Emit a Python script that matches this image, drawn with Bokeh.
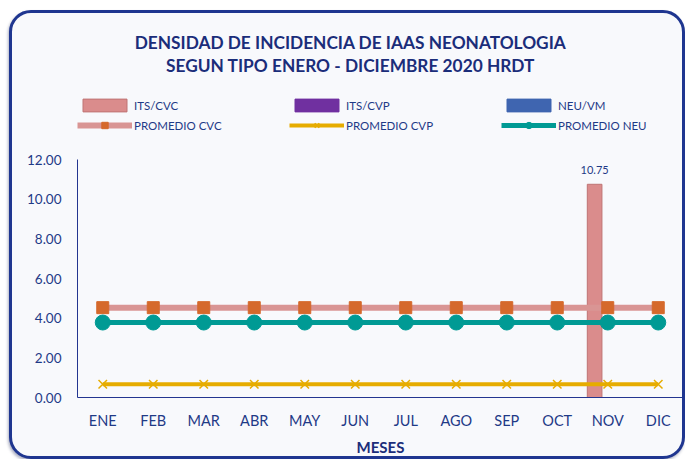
from bokeh.plotting import figure
from bokeh.models import (ColumnDataSource, FactorRange, Label, Legend, LegendItem,
                          NumeralTickFormatter, FixedTicker, Range1d)
from bokeh.transform import dodge
from bokeh.core.properties import value
from bokeh.embed import file_html
from bokeh.resources import INLINE

# ---- data ----
months = ["ENE", "FEB", "MAR", "ABR", "MAY", "JUN", "JUL", "AGO", "SEP", "OCT", "NOV", "DIC"]
its_cvc = [0, 0, 0, 0, 0, 0, 0, 0, 0, 0, 10.75, 0]
its_cvp = [0, 0, 0, 0, 0, 0, 0, 0, 0, 0, 0, 0]
neu_vm = [0, 0, 0, 0, 0, 0, 0, 0, 0, 0, 0, 0]
prom_cvc = [4.53, 4.53, 4.53, 4.53, 4.53, 4.53, 4.53, 4.53, 4.53, 4.53, 4.53, 4.53]
prom_cvp = [0.67, 0.67, 0.67, 0.67, 0.67, 0.67, 0.67, 0.67, 0.67, 0.67, 0.67, 0.67]
prom_neu = [3.78, 3.78, 3.78, 3.78, 3.78, 3.78, 3.78, 3.78, 3.78, 3.78, 3.78, 3.78]
y_ticks = [0, 2, 4, 6, 8, 10, 12]
title_lines = ["DENSIDAD DE INCIDENCIA DE IAAS NEONATOLOGIA",
               "SEGUN TIPO ENERO - DICIEMBRE 2020 HRDT"]

FONT = "Lato"
TXT = "#1F3A87"
TITLE_C = "#1B2D7A"

# ---- layout constants (canvas pixels; the figure sits inside a 3px css border) ----
BORDER = 3
W, H = 676, 449                 # figure size
FL, FR, FB = 65, 5, 65          # frame left / right / bottom border
FRAME_H = H - FB                # frame spans canvas top to the x axis
PX_UNIT = 238 / 12              # pixels per y unit (0..12 axis)
Y_END = FRAME_H / PX_UNIT
NCAT = len(months)
CAT_PX = (W - FL - FR) / NCAT


def cy(canvas_y):               # canvas y pixel -> data y
    return (FRAME_H - canvas_y) / PX_UNIT


def cx(canvas_x):               # canvas x pixel -> synthetic category x
    return (canvas_x - FL) / CAT_PX


src = ColumnDataSource(dict(m=months, cvc=its_cvc, cvp=its_cvp, neu=neu_vm,
                            pcvc=prom_cvc, pcvp=prom_cvp, pneu=prom_neu))
lab_m = [m for m, v in zip(months, its_cvc) if v > 0]
lab_v = [v for v in its_cvc if v > 0]
lab_src = ColumnDataSource(dict(m=lab_m, v=lab_v, t=[f"{v:.2f}" for v in lab_v]))

p = figure(x_range=FactorRange(factors=months), y_range=Range1d(0, Y_END),
           width=W, height=H, output_backend="svg", toolbar_location=None,
           min_border_left=FL, min_border_right=FR, min_border_top=0, min_border_bottom=FB)
p.background_fill_color = None
p.border_fill_color = None
p.outline_line_color = None
p.xgrid.grid_line_color = None
p.ygrid.grid_line_color = None
p.styles = {"margin-left": "9px", "margin-top": "10px",
            "border": f"{BORDER}px solid #1F3690", "border-radius": "22px",
            "background-color": "#F8F9FC",
            "box-shadow": "-1px 2px 3px rgba(20,30,80,0.35)"}

BW = 0.29
r_cvc = p.vbar(x=dodge("m", -0.26, range=p.x_range), top="cvc", width=BW, source=src,
               fill_color="#DA8C8C", line_color="#BF7474", line_width=1)
r_cvp = p.vbar(x=dodge("m", 0.0, range=p.x_range), top="cvp", width=BW, source=src,
               fill_color="#7030A0", line_color="#7030A0")
r_neu = p.vbar(x=dodge("m", 0.26, range=p.x_range), top="neu", width=BW, source=src,
               fill_color="#3F65B0", line_color="#3F65B0")

l_cvc = p.line("m", "pcvc", source=src, line_width=6, line_color="#D99594")
s_cvc = p.scatter("m", "pcvc", source=src, marker="square", size=12,
                  fill_color="#D5692C", line_color="#D5692C")
l_cvp = p.line("m", "pcvp", source=src, line_width=4, line_color="#E6AC00")
s_cvp = p.scatter("m", "pcvp", source=src, marker="x", size=12, line_width=1.5,
                  line_color="#E6AC00")
l_neu = p.line("m", "pneu", source=src, line_width=5, line_color="#009A94")
s_neu = p.scatter("m", "pneu", source=src, marker="circle", size=15,
                  fill_color="#009A94", line_color="#009A94")

p.text(x=dodge("m", -0.26, range=p.x_range), y="v", text="t", source=lab_src,
       text_align="center", text_baseline="middle", y_offset=-14,
       text_font_size="11px", text_color=TXT, text_font=value(FONT))

# axes
p.yaxis.ticker = FixedTicker(ticks=y_ticks)
p.yaxis.bounds = (y_ticks[0], y_ticks[-1])
p.yaxis.formatter = NumeralTickFormatter(format="0.00")
for ax in (p.xaxis[0], p.yaxis[0]):
    ax.axis_line_color = "#233590"
    ax.axis_line_width = 1
    ax.major_tick_line_color = None
    ax.minor_tick_line_color = None
    ax.major_label_text_color = TXT
    ax.major_label_text_font = FONT
p.yaxis.major_label_text_font_size = "13.5px"
p.yaxis.major_label_standoff = 10
p.xaxis.major_label_text_font_size = "14.5px"
p.xaxis.major_label_standoff = 8
p.xaxis.axis_label = "MESES"
p.xaxis.axis_label_text_font = FONT
p.xaxis.axis_label_text_font_style = "bold"
p.xaxis.axis_label_text_font_size = "15px"
p.xaxis.axis_label_text_color = TITLE_C
p.xaxis.axis_label_standoff = 6

# title (two centred lines), page y 42 / 65 -> canvas y 29 / 52
for i, t in enumerate(title_lines):
    p.add_layout(Label(x=cx(338), y=cy(29 + 23 * i), text=t,
                       text_align="center", text_baseline="middle",
                       text_font=FONT, text_font_style="bold", text_font_size="17.3px",
                       text_color=TITLE_C))

legend = Legend(items=[
    LegendItem(label="ITS/CVC", renderers=[r_cvc]),
    LegendItem(label="ITS/CVP", renderers=[r_cvp]),
    LegendItem(label="NEU/VM", renderers=[r_neu]),
    LegendItem(label="PROMEDIO CVC", renderers=[l_cvc, s_cvc]),
    LegendItem(label="PROMEDIO CVP", renderers=[l_cvp, s_cvp]),
    LegendItem(label="PROMEDIO NEU", renderers=[l_neu, s_neu]),
], location=(0, FRAME_H - 122), orientation="horizontal", ncols=3,
    glyph_width=55, glyph_height=16, label_height=20, label_width=155,
    label_standoff=2, spacing=0, padding=0, margin=0,
    border_line_color=None, background_fill_alpha=0,
    label_text_font=FONT, label_text_font_size="11.5px", label_text_color=TXT)
p.add_layout(legend, "center")

open("out.html", "w").write(file_html(p, INLINE))
